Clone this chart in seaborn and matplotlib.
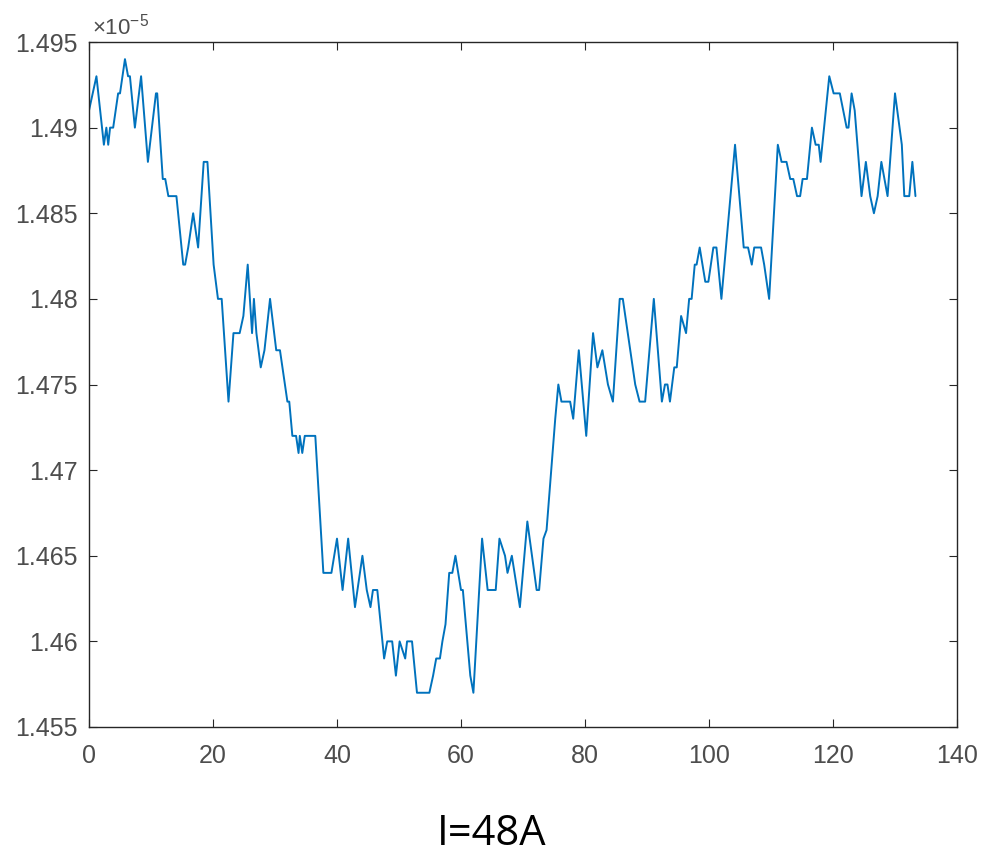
import matplotlib
matplotlib.use("Agg")
import matplotlib.pyplot as plt
import seaborn as sns
import pandas as pd

# Keypoints (x index, value in units of 1e-5)
x_vals = [0.0, 1.2, 2.4, 2.8, 3.1, 3.4, 3.9, 4.7, 5.0, 5.8, 6.3, 6.6, 7.4, 8.4, 9.5,
          10.8, 11.0, 11.9, 12.3, 12.8, 14.1, 15.2, 15.5, 16.0, 16.8, 17.6, 18.5, 19.1,
          20.1, 20.8, 21.4, 22.5, 23.3, 24.3, 24.9, 25.6, 26.3, 26.6, 27.0, 27.7, 28.3,
          29.2, 30.2, 30.8, 32.0, 32.3, 32.8, 33.4, 33.8, 34.0, 34.4, 34.8, 36.5, 37.8,
          39.1, 40.0, 40.9, 41.8, 42.9, 44.1, 44.8, 45.4, 45.8, 46.5, 47.6, 48.1, 48.9,
          49.5, 50.1, 51.0, 51.3, 52.1, 52.9, 54.9, 55.5, 56.0, 56.6, 57.0, 57.5, 58.1,
          58.6, 59.1, 60.0, 60.3, 61.5, 62.0, 63.4, 64.3, 65.6, 66.2, 67.1, 67.5, 68.2,
          69.5, 70.7, 72.2, 72.6, 73.3, 73.8, 75.2, 75.7, 76.2, 77.6, 78.1, 79.0, 80.2,
          81.3, 82.0, 82.8, 83.7, 84.5, 85.6, 86.1, 88.1, 88.8, 89.7, 91.1, 92.4, 92.9,
          93.3, 93.7, 94.4, 94.8, 95.5, 96.3, 96.8, 97.2, 97.7, 98.0, 98.5, 99.4, 99.9,
          100.7, 101.2, 102.0, 104.2, 105.6, 106.3, 106.9, 107.3, 108.4, 108.9, 109.7,
          111.1, 111.7, 112.5, 113.1, 113.6, 114.2, 114.7, 115.1, 115.8, 116.6, 117.2,
          117.7, 118.0, 119.4, 120.1, 121.1, 122.2, 122.5, 123.0, 123.5, 124.6, 125.3,
          126.0, 126.6, 127.2, 127.8, 128.8, 130.0, 131.1, 131.5, 132.3, 132.8, 133.3]
y_vals = [1.491, 1.493, 1.489, 1.490, 1.489, 1.490, 1.490, 1.492, 1.492, 1.494, 1.493, 1.493, 1.490, 1.493, 1.488,
          1.492, 1.492, 1.487, 1.487, 1.486, 1.486, 1.482, 1.482, 1.483, 1.485, 1.483, 1.488, 1.488,
          1.482, 1.480, 1.480, 1.474, 1.478, 1.478, 1.479, 1.482, 1.478, 1.480, 1.478, 1.476, 1.477,
          1.480, 1.477, 1.477, 1.474, 1.474, 1.472, 1.472, 1.471, 1.472, 1.471, 1.472, 1.472, 1.464,
          1.464, 1.466, 1.463, 1.466, 1.462, 1.465, 1.463, 1.462, 1.463, 1.463, 1.459, 1.460, 1.460,
          1.458, 1.460, 1.459, 1.460, 1.460, 1.457, 1.457, 1.458, 1.459, 1.459, 1.460, 1.461, 1.464,
          1.464, 1.465, 1.463, 1.463, 1.458, 1.457, 1.466, 1.463, 1.463, 1.466, 1.465, 1.464, 1.465,
          1.462, 1.467, 1.463, 1.463, 1.466, 1.4665, 1.473, 1.475, 1.474, 1.474, 1.473, 1.477, 1.472,
          1.478, 1.476, 1.477, 1.475, 1.474, 1.480, 1.480, 1.475, 1.474, 1.474, 1.480, 1.474, 1.475,
          1.475, 1.474, 1.476, 1.476, 1.479, 1.478, 1.480, 1.480, 1.482, 1.482, 1.483, 1.481, 1.481,
          1.483, 1.483, 1.480, 1.489, 1.483, 1.483, 1.482, 1.483, 1.483, 1.482, 1.480,
          1.489, 1.488, 1.488, 1.487, 1.487, 1.486, 1.486, 1.487, 1.487, 1.490, 1.489,
          1.489, 1.488, 1.493, 1.492, 1.492, 1.490, 1.490, 1.492, 1.491, 1.486, 1.488,
          1.486, 1.485, 1.486, 1.488, 1.486, 1.492, 1.489, 1.486, 1.486, 1.488, 1.486]

x_ticks = [0, 20, 40, 60, 80, 100, 120, 140]
y_ticks = [1.455, 1.46, 1.465, 1.47, 1.475, 1.48, 1.485, 1.49, 1.495]
y_tick_labels = ["1.455", "1.46", "1.465", "1.47", "1.475", "1.48", "1.485", "1.49", "1.495"]
exponent_label = r"$\times10^{-5}$"
caption = "I=48A"

df = pd.DataFrame({"x": x_vals, "y": y_vals})

sns.set_style("white")
plt.rcParams["font.family"] = ["Liberation Sans", "DejaVu Sans"]
plt.rcParams["mathtext.fontset"] = "custom"
plt.rcParams["mathtext.rm"] = "Liberation Sans"

fig = plt.figure(figsize=(9.84, 8.58), dpi=100)
ax = fig.add_axes([89 / 984, 1 - 727 / 858, (957 - 89) / 984, (727 - 42) / 858])

sns.lineplot(data=df, x="x", y="y", ax=ax, sort=False, estimator=None,
             color="#0072BD", linewidth=1.4)

ax.set_xlim(0, 140)
ax.set_ylim(1.455, 1.495)
ax.set_xticks(x_ticks)
ax.set_xticklabels([str(t) for t in x_ticks])
ax.set_yticks(y_ticks)
ax.set_yticklabels(y_tick_labels)
ax.set_xlabel("")
ax.set_ylabel("")

axis_col = "#262626"
tick_col = "#4d4d4d"
for s in ax.spines.values():
    s.set_color(axis_col)
    s.set_linewidth(1.0)
ax.tick_params(axis="both", direction="in", length=6, width=0.8, color=axis_col,
               labelcolor=tick_col, labelsize=18, top=True, right=True,
               bottom=True, left=True)
ax.tick_params(axis="y", pad=8)
ax.tick_params(axis="x", pad=12)

ax.text(0.003, 1.004, exponent_label, transform=ax.transAxes, fontsize=16,
        color=tick_col, ha="left", va="bottom")

fig.text(492 / 984, 1 - 834 / 858, caption, fontsize=30, color="black",
         ha="center", va="center", family=["Open Sans", "DejaVu Sans"])

fig.savefig("out.png", dpi=100)
